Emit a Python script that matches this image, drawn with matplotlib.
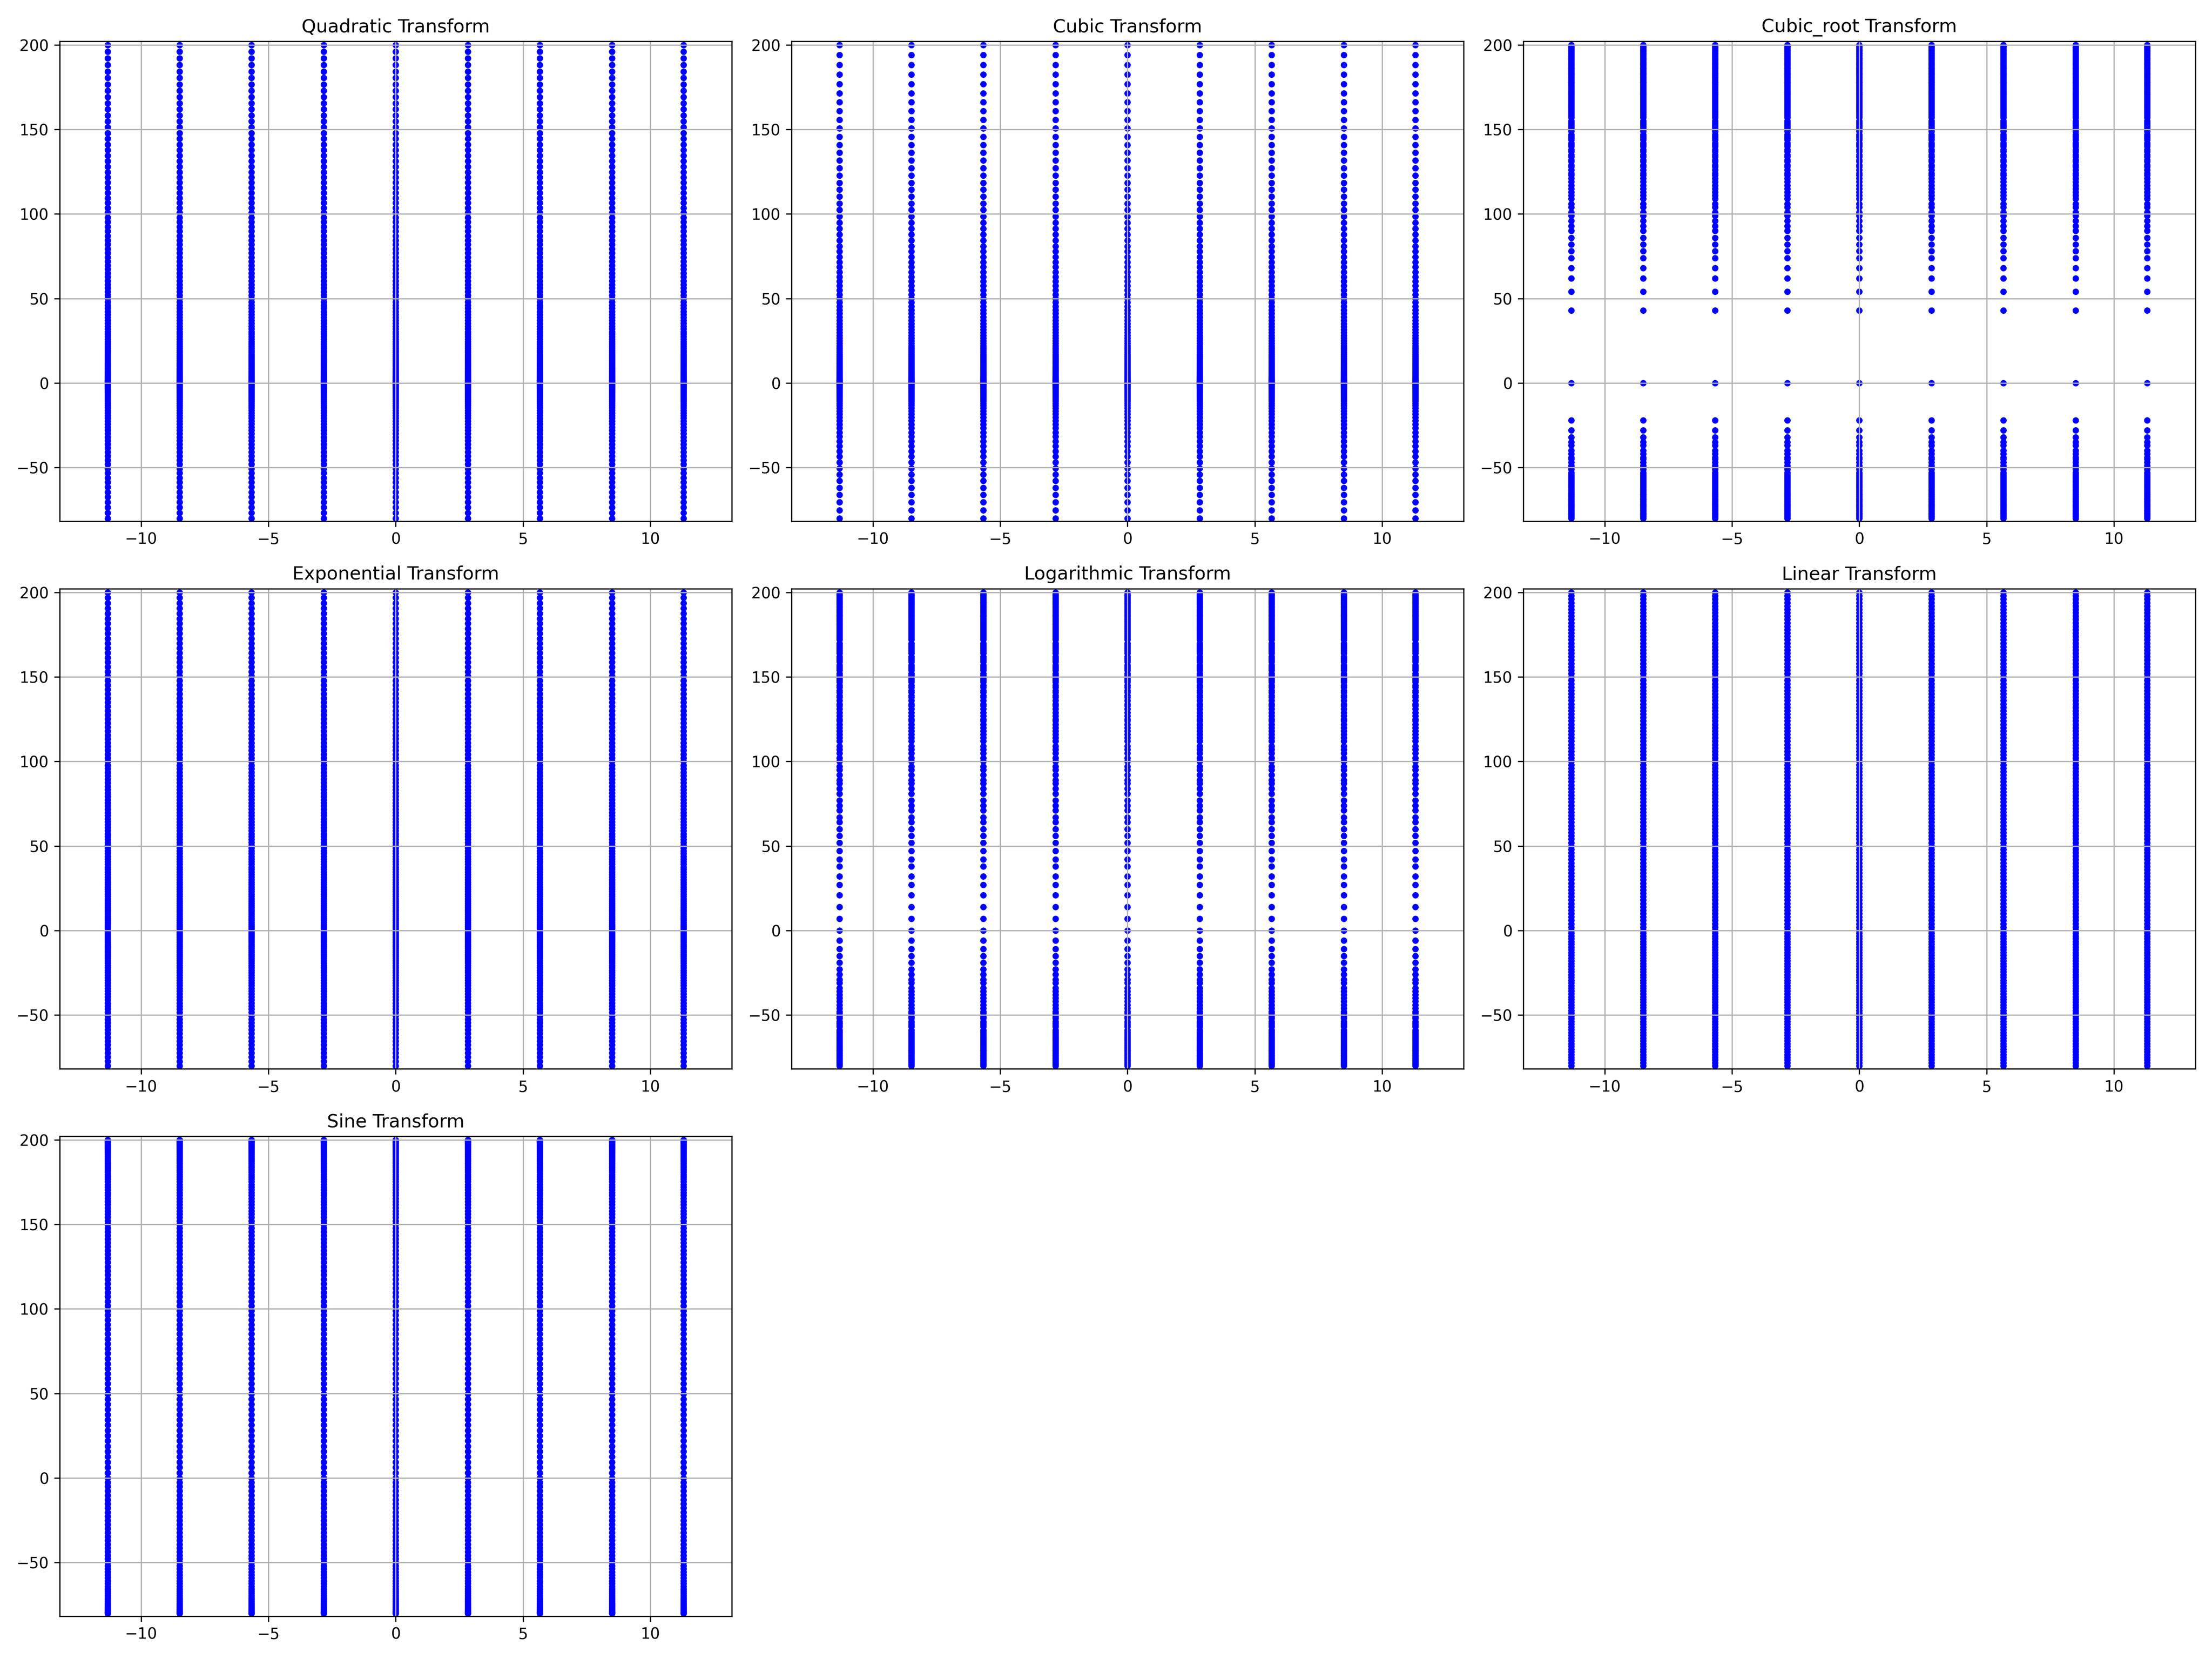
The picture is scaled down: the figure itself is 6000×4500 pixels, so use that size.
import matplotlib
matplotlib.use("Agg")
import matplotlib.pyplot as plt

# column positions on the x axis (same for every panel)
x_positions = [-11.31, -8.49, -5.66, -2.83, 0.0, 2.83, 5.66, 8.49, 11.31]

# y levels of the dots in each column
quadratic_y = [-80, -76.8, -73.6, -70.5, -67.5, -64.5, -61.6, -58.8, -56, -53.3, -50.7, -48.1, -45.6, -43.2,
               -40.8, -38.5, -36.3, -34.1, -32, -30, -28, -26.1, -24.3, -22.5, -20.8, -19.2, -17.6, -16.1,
               -14.7, -13.3, -12, -10.8, -9.6, -8.5, -7.5, -6.5, -5.6, -4.8, -4, -3.3, -2.7, -2.1, -1.6,
               -1.2, -0.8, -0.5, -0.3, -0.1, 0,
               0, 0, 0.1, 0.2, 0.3, 0.5, 0.7, 1, 1.3, 1.6, 2, 2.4, 2.9, 3.4, 3.9, 4.5, 5.1, 5.8, 6.5, 7.2,
               8, 8.8, 9.7, 10.6, 11.5, 12.5, 13.5, 14.6, 15.7, 16.8, 18, 19.2, 20.5, 21.8, 23.1, 24.5,
               25.9, 27.4, 28.9, 30.4, 32, 33.6, 35.3, 37, 38.7, 40.5, 42.3, 44.2, 46.1, 48, 50, 52, 54.1,
               56.2, 58.3, 60.5, 62.7, 65, 67.3, 69.6, 72, 74.4, 76.9, 79.4, 81.9, 84.5, 87.1, 89.8, 92.5,
               95.2, 98, 100.8, 103.7, 106.6, 109.5, 112.5, 115.5, 118.6, 121.7, 124.8, 128, 131.2, 134.5,
               137.8, 141.1, 144.5, 147.9, 151.4, 154.9, 158.4, 162, 165.6, 169.3, 173, 176.7, 180.5,
               184.3, 188.2, 192.1, 196, 200]

cubic_y = [-80, -75.2, -70.6, -66.2, -62, -57.9, -54.1, -50.4, -46.9, -43.5, -40.3, -37.3, -34.4, -31.7,
           -29.2, -26.7, -24.4, -22.3, -20.3, -18.4, -16.6, -14.9, -13.4, -12, -10.6, -9.4, -8.3, -7.2,
           -6.3, -5.4, -4.7, -4, -3.3, -2.8, -2.3, -1.9, -1.5, -1.2, -0.9, -0.7, -0.5, -0.3, -0.2, -0.1,
           -0.1, 0, 0, 0, 0,
           0, 0, 0, 0, 0, 0, 0, 0.1, 0.1, 0.1, 0.2, 0.3, 0.3, 0.4, 0.5, 0.7, 0.8, 1, 1.2, 1.4, 1.6, 1.9,
           2.1, 2.4, 2.8, 3.1, 3.5, 3.9, 4.4, 4.9, 5.4, 6, 6.6, 7.2, 7.9, 8.6, 9.3, 10.1, 11, 11.9, 12.8,
           13.8, 14.8, 15.9, 17, 18.2, 19.5, 20.8, 22.1, 23.5, 25, 26.5, 28.1, 29.8, 31.5, 33.3, 35.1,
           37, 39, 41.1, 43.2, 45.4, 47.7, 50, 52.4, 54.9, 57.5, 60.2, 62.9, 65.7, 68.6, 71.6, 74.6,
           77.8, 81, 84.4, 87.8, 91.3, 94.9, 98.6, 102.4, 106.3, 110.3, 114.4, 118.5, 122.8, 127.2,
           131.7, 136.3, 141, 145.8, 150.7, 155.7, 160.9, 166.1, 171.5, 176.9, 182.5, 188.2, 194.1, 200]

cubic_root_y = [-80, -79, -79, -78, -78, -77, -77, -76, -75, -75, -74, -73, -73, -72, -72, -71, -70, -69,
                -69, -68, -67, -66, -66, -65, -64, -63, -62, -61, -60, -59, -58, -57, -56, -55, -54, -53,
                -51, -50, -49, -47, -45, -44, -42, -40, -37, -35, -32, -28, -22, 0, 43, 54, 62, 68, 74,
                78, 82, 86, 90, 93, 96, 99, 101, 104, 106, 109, 111, 113, 115, 117, 119, 121, 123, 124,
                126, 128, 129, 131, 132, 134, 135, 137, 138, 140, 141, 142, 144, 145, 146, 147, 149, 150,
                151, 152, 153, 154, 155, 157, 158, 159, 160, 161, 162, 163, 164, 165, 166, 167, 168, 169,
                170, 171, 171, 172, 173, 174, 175, 176, 177, 178, 178, 179, 180, 181, 182, 183, 183, 184,
                185, 186, 186, 187, 188, 189, 189, 190, 191, 192, 192, 193, 194, 195, 195, 196, 197, 197,
                198, 199, 199, 200]

exponential_y = [-80, -77.4, -74.9, -72.5, -70.1, -67.7, -65.4, -63.2, -60.9, -58.8, -56.6, -54.6, -52.5,
                 -50.5, -48.5, -46.6, -44.7, -42.9, -41.1, -39.3, -37.6, -35.9, -34.2, -32.6, -31, -29.4,
                 -27.9, -26.4, -24.9, -23.5, -22.1, -20.7, -19.3, -18, -16.7, -15.4, -14.1, -12.9, -11.7,
                 -10.5, -9.4, -8.3, -7.1, -6.1, -5, -4, -2.9, -1.9, -1, 0, 1.2, 2.4, 3.5, 4.8, 6, 7.2,
                 8.4, 9.7, 11, 12.2, 13.5, 14.8, 16.2, 17.5, 18.8, 20.2, 21.6, 23, 24.4, 25.8, 27.2, 28.6,
                 30.1, 31.6, 33.1, 34.6, 36.1, 37.6, 39.2, 40.7, 42.3, 43.9, 45.5, 47.1, 48.8, 50.4, 52.1,
                 53.8, 55.5, 57.2, 59, 60.8, 62.5, 64.3, 66.1, 68, 69.8, 71.7, 73.6, 75.5, 77.4, 79.4,
                 81.4, 83.3, 85.3, 87.4, 89.4, 91.5, 93.6, 95.7, 97.8, 100, 102.1, 104.3, 106.6, 108.8,
                 111.1, 113.4, 115.7, 118, 120.4, 122.7, 125.1, 127.6, 130, 132.5, 135, 137.5, 140.1,
                 142.6, 145.3, 147.9, 150.5, 153.2, 155.9, 158.7, 161.4, 164.2, 167, 169.9, 172.8, 175.7,
                 178.6, 181.6, 184.6, 187.6, 190.6, 193.7, 196.9, 200]

logarithmic_y = [-80, -79, -79, -78, -77, -77, -76, -75, -74, -74, -73, -72, -71, -71, -70, -69, -68, -67,
                 -66, -65, -64, -63, -62, -61, -60, -59, -57, -56, -55, -54, -52, -51, -49, -48, -46, -44,
                 -42, -40, -38, -36, -34, -31, -29, -26, -23, -19, -15, -11, -6, 0, 7, 14, 21, 27, 32, 38,
                 42, 47, 52, 56, 60, 64, 67, 71, 74, 77, 81, 84, 87, 89, 92, 95, 97, 100, 102, 105, 107,
                 109, 112, 114, 116, 118, 120, 122, 124, 125, 127, 129, 131, 133, 134, 136, 138, 139, 141,
                 142, 144, 145, 147, 148, 149, 151, 152, 154, 155, 156, 157, 159, 160, 161, 162, 164, 165,
                 166, 167, 168, 169, 170, 172, 173, 174, 175, 176, 177, 178, 179, 180, 181, 182, 183, 184,
                 185, 186, 186, 187, 188, 189, 190, 191, 192, 193, 194, 194, 195, 196, 197, 198, 198, 199,
                 200]

linear_y = [-80, -78.4, -76.7, -75.1, -73.5, -71.8, -70.2, -68.6, -66.9, -65.3, -63.7, -62, -60.4, -58.8,
            -57.1, -55.5, -53.9, -52.2, -50.6, -49, -47.3, -45.7, -44.1, -42.4, -40.8, -39.2, -37.6, -35.9,
            -34.3, -32.7, -31, -29.4, -27.8, -26.1, -24.5, -22.9, -21.2, -19.6, -18, -16.3, -14.7, -13.1,
            -11.4, -9.8, -8.2, -6.5, -4.9, -3.3, -1.6,
            0, 2, 4, 6, 8, 10, 12, 14, 16, 18, 20, 22, 24, 26, 28, 30, 32, 34, 36, 38, 40, 42, 44, 46, 48,
            50, 52, 54, 56, 58, 60, 62, 64, 66, 68, 70, 72, 74, 76, 78, 80, 82, 84, 86, 88, 90, 92, 94, 96,
            98, 100, 102, 104, 106, 108, 110, 112, 114, 116, 118, 120, 122, 124, 126, 128, 130, 132, 134,
            136, 138, 140, 142, 144, 146, 148, 150, 152, 154, 156, 158, 160, 162, 164, 166, 168, 170, 172,
            174, 176, 178, 180, 182, 184, 186, 188, 190, 192, 194, 196, 198, 200]

sine_y = [-80, -80, -79.8, -79.6, -79.3, -79, -78.5, -78, -77.4, -76.7, -75.9, -75.1, -74.2, -73.2, -72.1,
          -70.9, -69.7, -68.4, -67, -65.6, -64.1, -62.5, -60.9, -59.2, -57.5, -55.7, -53.8, -51.9, -49.9,
          -47.8, -45.8, -43.6, -41.5, -39.3, -37, -34.7, -32.4, -30, -27.6, -25.2, -22.8, -20.3, -17.8,
          -15.3, -12.8, -10.2, -7.7, -5.1, -2.6, 0, 3.1, 6.3, 9.4, 12.6, 15.7, 18.8, 21.9, 25.1, 28.2,
          31.3, 34.4, 37.5, 40.6, 43.6, 46.7, 49.7, 52.8, 55.8, 58.8, 61.8, 64.8, 67.7, 70.7, 73.6, 76.5,
          79.4, 82.3, 85.2, 88, 90.8, 93.6, 96.4, 99.1, 101.8, 104.5, 107.2, 109.8, 112.4, 115, 117.6,
          120.1, 122.6, 125, 127.5, 129.9, 132.3, 134.6, 136.9, 139.2, 141.4, 143.6, 145.8, 147.9, 150,
          152.1, 154.1, 156.1, 158, 159.9, 161.8, 163.6, 165.4, 167.2, 168.9, 170.5, 172.1, 173.7, 175.3,
          176.8, 178.2, 179.6, 181, 182.3, 183.6, 184.8, 186, 187.1, 188.2, 189.2, 190.2, 191.2, 192.1,
          192.9, 193.7, 194.5, 195.2, 195.8, 196.5, 197, 197.5, 198, 198.4, 198.8, 199.1, 199.4, 199.6,
          199.8, 199.9, 200, 200]

titles = ["Quadratic Transform", "Cubic Transform", "Cubic_root Transform", "Exponential Transform",
          "Logarithmic Transform", "Linear Transform", "Sine Transform"]
panels = [quadratic_y, cubic_y, cubic_root_y, exponential_y, logarithmic_y, linear_y, sine_y]

fig, axes = plt.subplots(3, 3, figsize=(20, 15))
axes = axes.flatten()

for ax, title, ys in zip(axes, titles, panels):
    for xp in x_positions:
        ax.scatter([xp] * len(ys), ys, s=10, color="blue")
    ax.set_title(title)
    ax.set_xlim(-13.2, 13.2)
    ax.set_ylim(-81.8, 202.2)
    ax.grid(True)

# only 7 transforms, drop the spare axes
for ax in axes[len(titles):]:
    fig.delaxes(ax)

plt.tight_layout()
plt.savefig("out.png", dpi=300)
